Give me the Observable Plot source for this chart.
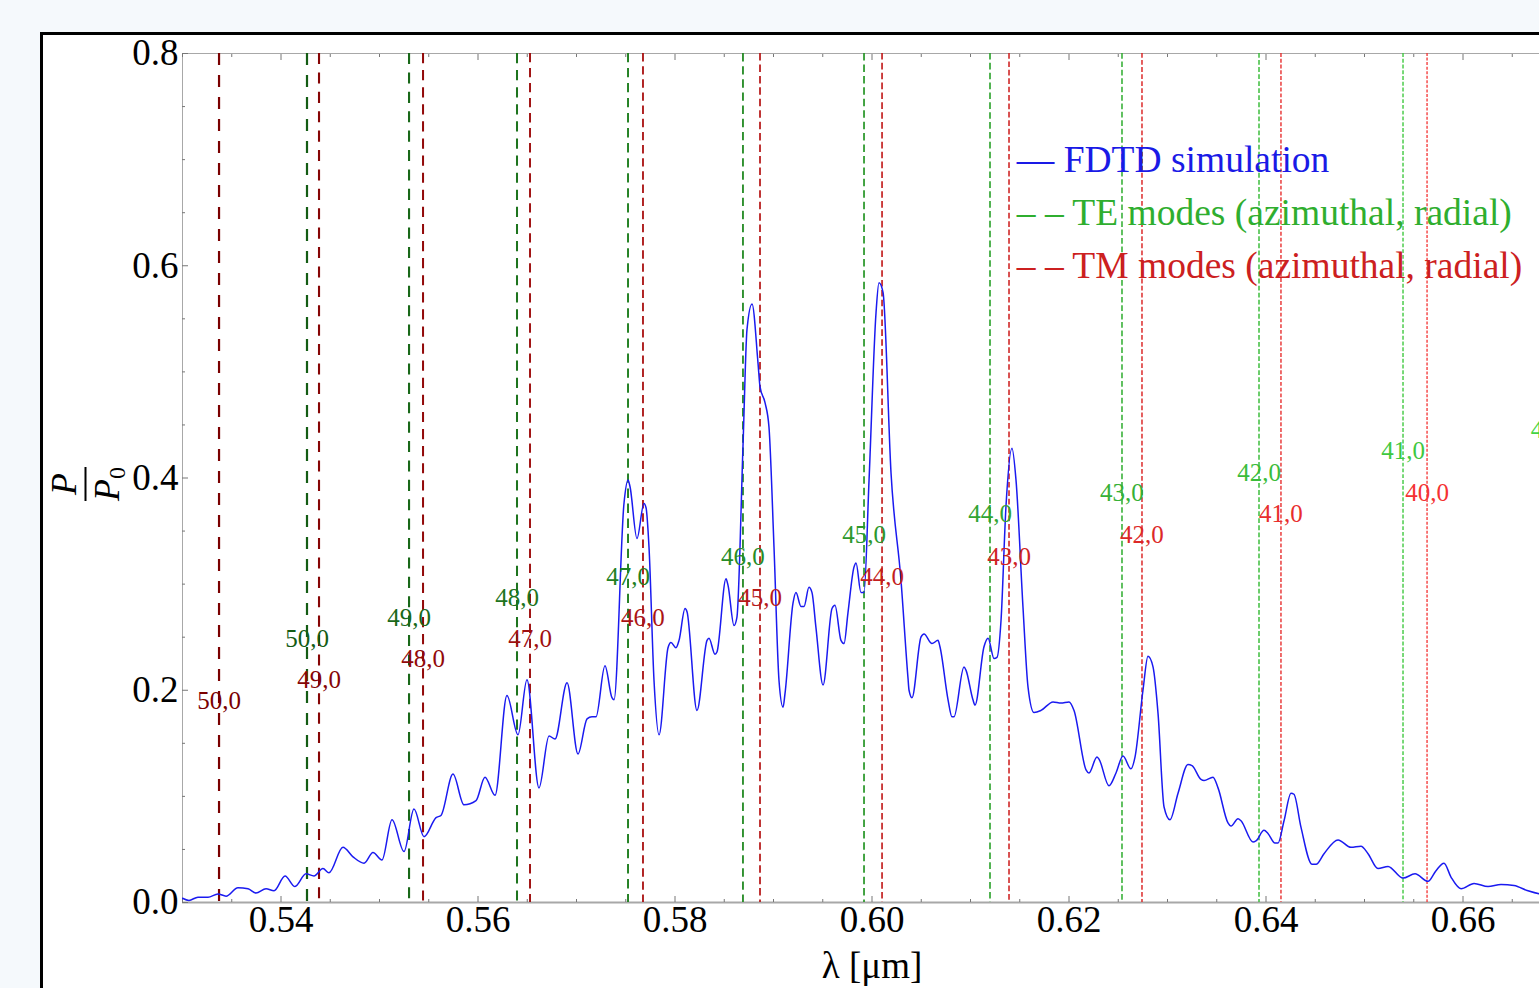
<!DOCTYPE html>
<html><head><meta charset="utf-8">
<script src="https://cdn.jsdelivr.net/npm/d3@7"></script>
<script src="https://cdn.jsdelivr.net/npm/@observablehq/plot@0.6"></script>
<style>
html,body{margin:0;padding:0;width:1539px;height:988px;overflow:hidden;background:#f5f9fc;}
#frame{position:absolute;left:40px;top:32px;width:1600px;height:1000px;border-left:3px solid #000;border-top:3px solid #000;background:#fff;}
#chart{position:absolute;left:0;top:-20px;}
#ylab{position:absolute;left:42px;top:449px;transform:translate(-50%,-50%) rotate(-90deg);
  display:flex;flex-direction:column;align-items:center;font-family:'Liberation Serif','Times New Roman',serif;font-size:36px;line-height:1;color:#000;}
#ylab .bar{width:34px;height:2px;background:#000;margin:3px 0 2px 0;}
#ylab .sub{font-size:24px;position:relative;top:6px;font-style:normal;}
</style></head>
<body>
<div id="frame"><div id="chart"></div>
<div id="ylab"><div><i>P</i></div><div class="bar"></div><div><i>P</i><span class="sub">0</span></div></div>
</div>
<script>
// ---- data ----
const lambda = [0.5300,0.53066,0.53157,0.53259,0.53360,0.53442,0.53563,0.53665,0.53746,0.53848,0.53929,0.54041,0.54142,0.54254,0.54335,0.54426,0.54487,0.54629,0.54731,0.54843,0.54934,0.55025,0.55127,0.55249,0.55350,0.55452,0.55574,0.55624,0.55746,0.55858,0.55980,0.56071,0.56173,0.56294,0.56406,0.56497,0.56619,0.56721,0.56782,0.56904,0.57015,0.57107,0.57157,0.57198,0.57289,0.57360,0.57381,0.57482,0.57523,0.57543,0.57614,0.57685,0.57706,0.57736,0.57787,0.57838,0.57929,0.57959,0.58010,0.58041,0.58102,0.58122,0.58223,0.58325,0.58345,0.58406,0.58426,0.58518,0.58538,0.58599,0.58629,0.58690,0.58731,0.58782,0.58843,0.58863,0.58914,0.58954,0.59005,0.59056,0.59097,0.59117,0.59198,0.59228,0.59279,0.59310,0.59360,0.59391,0.59431,0.59503,0.59594,0.59624,0.59685,0.59716,0.59756,0.59817,0.59838,0.59888,0.59919,0.59970,0.60041,0.60071,0.60112,0.60193,0.60294,0.60365,0.60376,0.60406,0.60497,0.60528,0.60609,0.60670,0.60690,0.60772,0.60812,0.60832,0.60934,0.60954,0.61025,0.61046,0.61137,0.61178,0.61239,0.61269,0.61310,0.61360,0.61421,0.61462,0.61533,0.61584,0.61645,0.61716,0.61838,0.61919,0.62000,0.62051,0.62173,0.62203,0.62284,0.62305,0.62406,0.62477,0.62548,0.62629,0.62670,0.62751,0.62802,0.62853,0.62904,0.62965,0.63025,0.63107,0.63208,0.63249,0.63340,0.63371,0.63462,0.63513,0.63614,0.63645,0.63716,0.63746,0.63868,0.63898,0.63980,0.64020,0.64091,0.64122,0.64183,0.64254,0.64284,0.64355,0.64467,0.64508,0.64589,0.64731,0.64863,0.64964,0.65036,0.65137,0.65239,0.65391,0.65513,0.65645,0.65726,0.65807,0.65878,0.65980,0.66112,0.66254,0.66386,0.66518,0.66660,0.66782,0.6700];
const power = [0.004,0.002,0.005,0.005,0.008,0.006,0.014,0.013,0.009,0.013,0.011,0.025,0.015,0.027,0.025,0.032,0.028,0.052,0.043,0.037,0.047,0.040,0.078,0.048,0.088,0.062,0.080,0.082,0.121,0.092,0.096,0.118,0.101,0.195,0.158,0.210,0.108,0.157,0.154,0.207,0.140,0.173,0.175,0.175,0.223,0.193,0.191,0.376,0.398,0.392,0.343,0.376,0.372,0.335,0.209,0.158,0.240,0.245,0.240,0.247,0.277,0.274,0.181,0.247,0.249,0.234,0.236,0.305,0.299,0.261,0.269,0.429,0.540,0.564,0.508,0.486,0.471,0.448,0.335,0.209,0.184,0.197,0.282,0.292,0.279,0.279,0.297,0.292,0.259,0.205,0.277,0.280,0.247,0.244,0.273,0.316,0.320,0.292,0.292,0.398,0.556,0.584,0.575,0.405,0.304,0.212,0.200,0.193,0.250,0.253,0.244,0.247,0.241,0.191,0.175,0.175,0.222,0.219,0.191,0.186,0.241,0.249,0.230,0.231,0.266,0.373,0.428,0.398,0.278,0.203,0.179,0.181,0.189,0.188,0.189,0.181,0.125,0.122,0.137,0.135,0.110,0.122,0.138,0.126,0.137,0.200,0.232,0.222,0.178,0.090,0.078,0.103,0.130,0.129,0.116,0.115,0.118,0.108,0.075,0.072,0.079,0.077,0.057,0.058,0.068,0.065,0.056,0.056,0.077,0.103,0.102,0.071,0.036,0.036,0.046,0.059,0.052,0.053,0.046,0.032,0.034,0.023,0.027,0.020,0.030,0.037,0.024,0.013,0.018,0.015,0.017,0.016,0.011,0.008,0.006];

const teNames = ["50,0","49,0","48,0","47,0","46,0","45,0","44,0","43,0","42,0","41,0","40,0"];
const teLambda = [0.54264,0.55300,0.56396,0.57523,0.58690,0.59919,0.61198,0.62538,0.63929,0.65391,0.66910];
const teLabelP = [0.248,0.268,0.287,0.307,0.326,0.346,0.366,0.386,0.405,0.425,0.445];

const tmNames = ["50,0","49,0","48,0","47,0","46,0","45,0","44,0","43,0","42,0","41,0","40,0"];
const tmLambda = [0.53371,0.54386,0.55442,0.56528,0.57675,0.58863,0.60102,0.61391,0.62741,0.64152,0.65635];
const tmLabelP = [0.190,0.210,0.229,0.248,0.268,0.287,0.307,0.326,0.346,0.366,0.386];

const xMajor = [0.54,0.56,0.58,0.60,0.62,0.64,0.66];
const xMinor = [0.530,0.535,0.545,0.550,0.555,0.565,0.570,0.575,0.585,0.590,0.595,0.605,0.610,0.615,0.625,0.630,0.635,0.645,0.650,0.655,0.665];
const yMajor = [0,0.2,0.4,0.6,0.8];
const yMinor = [0.05,0.10,0.15,0.25,0.30,0.35,0.45,0.50,0.55,0.65,0.70,0.75];

const legendText = ["\u2014 FDTD simulation","\u2013 \u2013 TE modes (azimuthal, radial)","\u2013 \u2013 TM modes (azimuthal, radial)"];
const legendP = [0.70,0.65,0.60];
const legendLambda = 0.6147;

// ---- styles ----
const blue = "#1a1af0";
const teColor = d3.interpolateRgb("#145c14","#44d444");
const tmColor = d3.interpolateRgb("#7a0000","#f43232");
const legendColors = ["#1a1ae6","#2fae2f","#cc2020"];
const serif = "'Liberation Serif','Times New Roman',serif";

const curve = lambda.map((l,i)=>({l, p: power[i]}));
function modeRows(names, lams, labs, colorFn){
  return names.map((n,i)=>({name:n, l:lams[i], lp:labs[i], i, color: colorFn(i/10)}));
}
const te = modeRows(teNames, teLambda, teLabelP, teColor);
const tm = modeRows(tmNames, tmLambda, tmLabelP, tmColor);

function modeRule(d){
  const dash = 12 - 0.9*d.i, gap = 10*Math.pow(0.83, d.i);
  return Plot.ruleX([d], {x:"l", stroke: d.color, strokeWidth: 2.2-0.09*d.i, strokeDasharray: `${dash.toFixed(2)},${gap.toFixed(2)}`});
}

const tickStroke = "#777";
const chart = Plot.plot({
  width: 1518, height: 973,
  marginLeft: 139, marginRight: 0, marginTop: 38, marginBottom: 86,
  x: {domain:[0.53,0.67], label:null},
  y: {domain:[0,0.8], label:null},
  color: {type:"identity"},
  style: {fontFamily: serif, background:"transparent", color:"#000"},
  marks: [
    Plot.frame({stroke:"#a8a8a8"}),
    Plot.ruleY([0], {stroke:"#a8a8a8", strokeWidth:2}),
    Plot.axisX({anchor:"bottom", ticks:xMinor, tickSize:-3, tickFormat:()=>"", label:null, stroke:tickStroke}),
    Plot.axisX({anchor:"top", ticks:xMinor, tickSize:-3, tickFormat:()=>"", label:null, stroke:tickStroke}),
    Plot.axisX({anchor:"bottom", ticks:xMajor, tickSize:-6, tickFormat:()=>"", label:null, stroke:tickStroke}),
    Plot.axisX({anchor:"top", ticks:xMajor, tickSize:-6, tickFormat:()=>"", label:null, stroke:tickStroke}),
    Plot.axisY({anchor:"left", ticks:yMinor, tickSize:-3, tickFormat:()=>"", label:null, stroke:tickStroke}),
    Plot.axisY({anchor:"left", ticks:yMajor, tickSize:-6, tickFormat:()=>"", label:null, stroke:tickStroke}),
    Plot.axisX({anchor:"bottom", ticks:xMajor, tickSize:0, tickPadding:3, tickFormat:d3.format(".2f"), fontSize:37,
      label:"λ [μm]", labelAnchor:"center", labelOffset:75, labelArrow:"none"}),
    Plot.axisY({anchor:"left", ticks:yMajor, tickSize:0, tickPadding:4, tickFormat:d3.format(".1f"), fontSize:37, label:null}),
    ...tm.map(modeRule),
    ...te.map(modeRule),
    Plot.line(curve, {x:"l", y:"p", stroke:blue, strokeWidth:1.5, curve:"monotone-x", clip:true}),
    Plot.text(te, {x:"l", y:"lp", text:"name", fill:"color", fontSize:25}),
    Plot.text(tm, {x:"l", y:"lp", text:"name", fill:"color", fontSize:25}),
    Plot.text(legendText.map((t,i)=>({t, p:legendP[i], c:legendColors[i]})),
      {x:()=>legendLambda, y:"p", text:"t", fill:"c", fontSize:37.5, textAnchor:"start"})
  ]
});
document.getElementById("chart").appendChild(chart);
</script>
</body></html>
